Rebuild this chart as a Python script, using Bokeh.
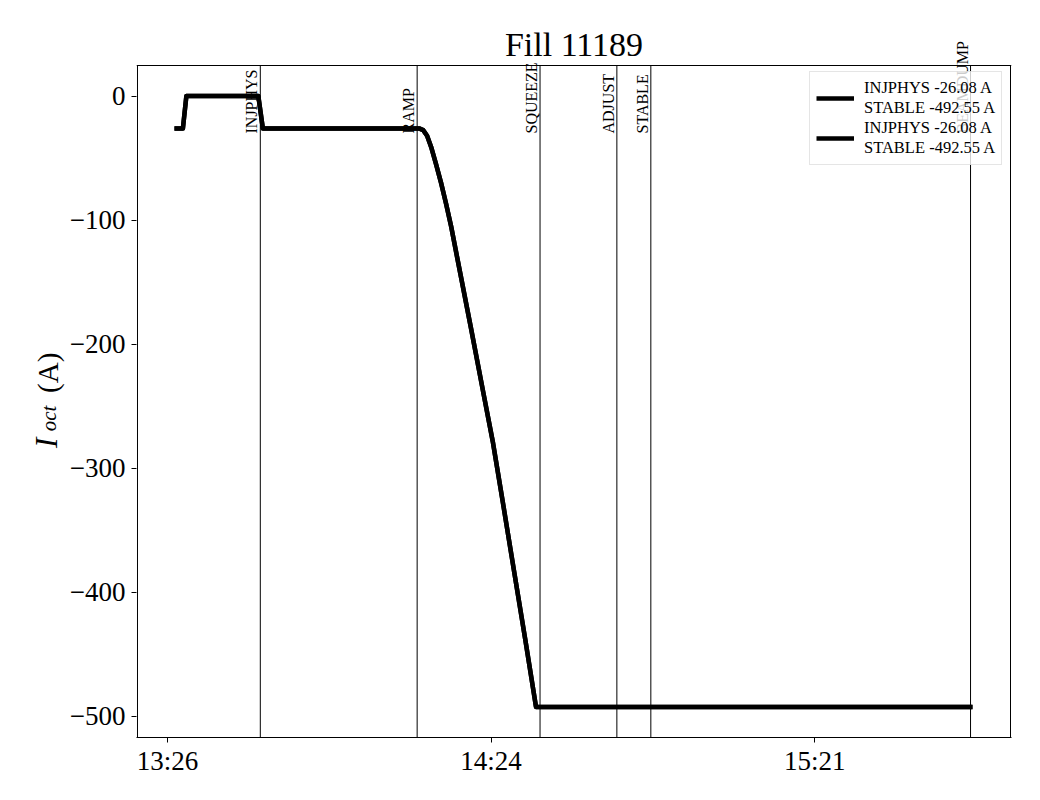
import math
from bokeh.plotting import figure
from bokeh.layouts import row
from bokeh.models import (Range1d, FixedTicker, Span, LabelSet, Label, Legend,
                          LegendItem, ColumnDataSource)
from bokeh.core.properties import value
from bokeh.embed import file_html
from bokeh.resources import INLINE

# ---------------- data ----------------
TITLE = "Fill 11189"
times = ["13:27:55", "13:29:25", "13:30:02", "13:42:49", "13:43:37", "14:11:23",
         "14:12:06", "14:12:48", "14:13:31", "14:14:24", "14:15:17", "14:16:11",
         "14:17:04", "14:18:15", "14:20:34", "14:22:51", "14:24:28", "14:26:24",
         "14:28:19", "14:30:16", "14:32:09", "15:49:42"]
current = [-26.08, -26.08, 0.0, 0.0, -26.08, -26.08,
           -27.5, -32.0, -41.0, -55.0, -70.0, -87.0,
           -105.0, -132.6, -186.4, -240.5, -278.5, -331.5,
           -384.9, -438.9, -492.55, -492.55]
event_names = ["INJPHYS", "RAMP", "SQUEEZE", "ADJUST", "STABLE", "BEAMDUMP"]
event_times = ["13:43:10", "14:11:02", "14:32:52", "14:46:31", "14:52:33", "15:49:21"]
xtick_times = ["13:26:40", "14:24:10", "15:21:40"]
xtick_labels = ["13:26", "14:24", "15:21"]
ytick_values = [0, -100, -200, -300, -400, -500]
legend_labels = ["INJPHYS -26.08 A\nSTABLE -492.55 A",
                 "INJPHYS -26.08 A\nSTABLE -492.55 A"]
ylabel_parts = ["I", "oct", "(A)"]
x_limits = ["13:21:21", "15:56:27"]   # visible time window of the axes box


def sec(t):
    h, m, s = (int(v) for v in t.split(":"))
    return h * 3600 + m * 60 + s


FONT = "Liberation Serif"
H = 784
LW = 66  # width of the strip that carries the y-axis label

xs = [sec(t) for t in times]
ev_x = [sec(t) for t in event_times]
xt = [sec(t) for t in xtick_times]
x0, x1 = sec(x_limits[0]), sec(x_limits[1])

lo, hi = min(current), max(current)
pad = 0.05 * (hi - lo)
y0, y1 = lo - pad, hi + pad

# axes box: 874 x 672 px; the drawing frame is a little larger so that the
# rotated phase labels and the title can reach above the box, as in the source
BOX_W, BOX_H = 874, 672
sx = (x1 - x0) / BOX_W        # seconds per pixel
sy = (y1 - y0) / BOX_H        # amps per pixel
EXT_L, EXT_R, EXT_T = 1, 1, 60

# ---------- y-axis label strip (rotated text, italic I with subscript) ----------
lab = figure(width=LW, height=H, output_backend="svg", toolbar_location=None,
             x_range=Range1d(0, LW), y_range=Range1d(0, H),
             x_axis_type=None, y_axis_type=None, min_border=0)
lab.outline_line_color = None
lab.grid.visible = False
lab.background_fill_color = "white"
lab.border_fill_color = "white"
common = dict(angle=math.pi / 2, text_align="left", text_baseline="alphabetic",
              text_font=FONT, text_color="black")
lab.add_layout(Label(x=46, y=H - 474, text=ylabel_parts[0], text_font_size="31px",
                     text_font_style="italic", **common))
lab.add_layout(Label(x=48.5, y=H - 456, text=ylabel_parts[1], text_font_size="21px",
                     text_font_style="italic", **common))
lab.add_layout(Label(x=47, y=H - 415, text=ylabel_parts[2], text_font_size="29px",
                     **common))

# ---------------- main plot ----------------
p = figure(width=1024 - LW, height=H, output_backend="svg", toolbar_location=None,
           x_range=Range1d(x0 - EXT_L * sx, x1 + EXT_R * sx),
           y_range=Range1d(y0, y1 + EXT_T * sy),
           min_border_left=136 - EXT_L - LW, min_border_right=14 - EXT_R,
           min_border_top=65 - EXT_T, min_border_bottom=47)
p.title.visible = False
p.background_fill_color = "white"
p.border_fill_color = "white"
p.outline_line_color = None
p.grid.visible = False

for ax in (p.xaxis[0], p.yaxis[0]):
    ax.axis_line_color = "black"
    ax.major_tick_line_color = "black"
    ax.major_tick_out = 5
    ax.major_tick_in = 0
    ax.minor_tick_line_color = None
    ax.major_label_text_font = FONT
    ax.major_label_text_font_size = "27px"
    ax.major_label_text_color = "black"
p.yaxis.axis_line_color = None

p.xaxis.ticker = FixedTicker(ticks=xt)
p.xaxis.major_label_overrides = {t: l for t, l in zip(xt, xtick_labels)}
p.xaxis.major_label_standoff = 3
p.yaxis.ticker = FixedTicker(ticks=ytick_values)
p.yaxis.major_label_overrides = {v: (("\u2212" + str(-v)) if v < 0 else str(v))
                                 for v in ytick_values}
p.yaxis.major_label_standoff = 6

# axes box edges (top, left, right)
p.add_layout(Span(location=y1, dimension="width", line_color="black", line_width=1))
p.segment(x0=[x0, x1], y0=[y0, y0], x1=[x0, x1], y1=[y1, y1],
          line_color="black", line_width=1)

# event lines
p.segment(x0=ev_x, y0=[y0] * len(ev_x), x1=ev_x, y1=[y1] * len(ev_x),
          line_color="black", line_width=1)

src = ColumnDataSource(dict(x=xs, y=current))
r1 = p.line("x", "y", source=src, line_color="black", line_width=4.5,
            line_join="round")
r2 = p.line("x", "y", source=src, line_color="black", line_width=4.5,
            line_join="round")

ev_src = ColumnDataSource(dict(x=ev_x, y=[y1 - 68 * sy] * len(ev_x), text=event_names))
p.add_layout(LabelSet(x="x", y="y", text="text", source=ev_src, angle=math.pi / 2,
                      text_align="left", text_baseline="alphabetic", x_offset=-3,
                      text_font=value(FONT), text_font_size=value("16px"),
                      text_color="black"))

# title (drawn inside the enlarged frame, above the axes box)
p.add_layout(Label(x=(x0 + x1) / 2, y=y1 + 21 * sy, text=TITLE, text_align="center",
                   text_baseline="alphabetic", text_font=FONT, text_font_size="34px",
                   text_color="black"))

legend = Legend(items=[LegendItem(label=value(legend_labels[0]), renderers=[r1]),
                       LegendItem(label=value(legend_labels[1]), renderers=[r2])],
                location=(808 - 135, 737 - 165))
legend.label_text_font = FONT
legend.label_text_font_size = "16.5px"
legend.label_text_color = "black"
legend.glyph_width = 38
legend.glyph_height = 20
legend.label_standoff = 10
legend.padding = 6
legend.spacing = 0
legend.margin = 0
legend.border_line_color = "#cccccc"
legend.border_line_width = 1
legend.background_fill_color = "white"
legend.background_fill_alpha = 0.8
p.add_layout(legend)

layout = row(lab, p, spacing=0)
open("out.html", "w").write(file_html(layout, INLINE))
